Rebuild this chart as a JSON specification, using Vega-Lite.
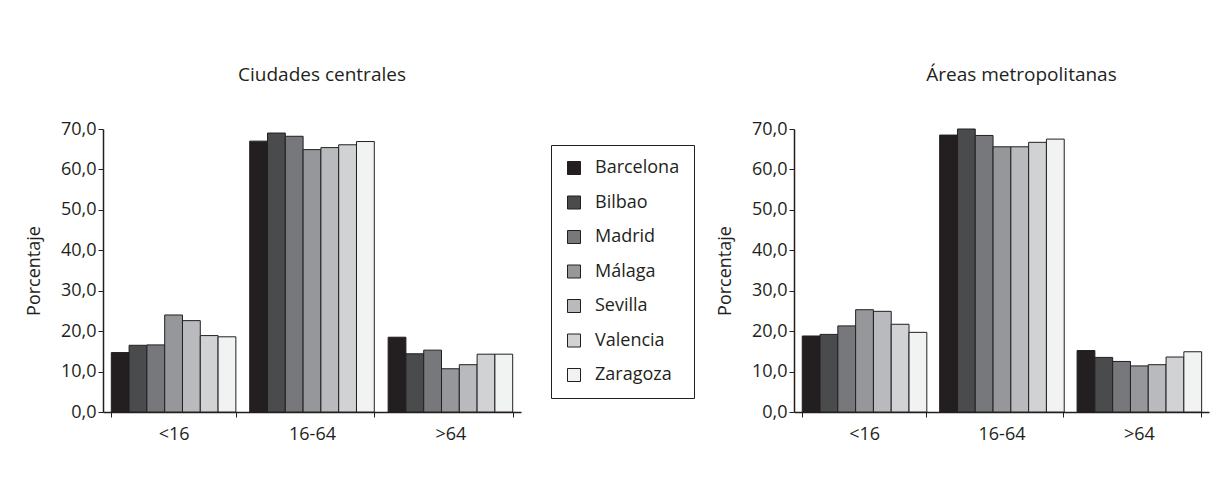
{
  "$schema": "https://vega.github.io/schema/vega-lite/v6.json",
  "padding": {"left": 25, "top": 66, "right": 5, "bottom": 5},
  "background": "white",
  "datasets": {
    "central": [
      {"grupo": "<16", "ciudad": "Barcelona", "valor": 14.7},
      {"grupo": "<16", "ciudad": "Bilbao", "valor": 16.5},
      {"grupo": "<16", "ciudad": "Madrid", "valor": 16.6},
      {"grupo": "<16", "ciudad": "Málaga", "valor": 24.0},
      {"grupo": "<16", "ciudad": "Sevilla", "valor": 22.6},
      {"grupo": "<16", "ciudad": "Valencia", "valor": 18.9},
      {"grupo": "<16", "ciudad": "Zaragoza", "valor": 18.6},
      {"grupo": "16-64", "ciudad": "Barcelona", "valor": 67.0},
      {"grupo": "16-64", "ciudad": "Bilbao", "valor": 69.0},
      {"grupo": "16-64", "ciudad": "Madrid", "valor": 68.2},
      {"grupo": "16-64", "ciudad": "Málaga", "valor": 64.9},
      {"grupo": "16-64", "ciudad": "Sevilla", "valor": 65.4},
      {"grupo": "16-64", "ciudad": "Valencia", "valor": 66.1},
      {"grupo": "16-64", "ciudad": "Zaragoza", "valor": 66.9},
      {"grupo": ">64", "ciudad": "Barcelona", "valor": 18.5},
      {"grupo": ">64", "ciudad": "Bilbao", "valor": 14.4},
      {"grupo": ">64", "ciudad": "Madrid", "valor": 15.3},
      {"grupo": ">64", "ciudad": "Málaga", "valor": 10.7},
      {"grupo": ">64", "ciudad": "Sevilla", "valor": 11.7},
      {"grupo": ">64", "ciudad": "Valencia", "valor": 14.3},
      {"grupo": ">64", "ciudad": "Zaragoza", "valor": 14.3}
    ],
    "metro": [
      {"grupo": "<16", "ciudad": "Barcelona", "valor": 18.8},
      {"grupo": "<16", "ciudad": "Bilbao", "valor": 19.2},
      {"grupo": "<16", "ciudad": "Madrid", "valor": 21.3},
      {"grupo": "<16", "ciudad": "Málaga", "valor": 25.3},
      {"grupo": "<16", "ciudad": "Sevilla", "valor": 24.9},
      {"grupo": "<16", "ciudad": "Valencia", "valor": 21.7},
      {"grupo": "<16", "ciudad": "Zaragoza", "valor": 19.7},
      {"grupo": "16-64", "ciudad": "Barcelona", "valor": 68.5},
      {"grupo": "16-64", "ciudad": "Bilbao", "valor": 70.0},
      {"grupo": "16-64", "ciudad": "Madrid", "valor": 68.4},
      {"grupo": "16-64", "ciudad": "Málaga", "valor": 65.6},
      {"grupo": "16-64", "ciudad": "Sevilla", "valor": 65.6},
      {"grupo": "16-64", "ciudad": "Valencia", "valor": 66.7},
      {"grupo": "16-64", "ciudad": "Zaragoza", "valor": 67.5},
      {"grupo": ">64", "ciudad": "Barcelona", "valor": 15.2},
      {"grupo": ">64", "ciudad": "Bilbao", "valor": 13.5},
      {"grupo": ">64", "ciudad": "Madrid", "valor": 12.5},
      {"grupo": ">64", "ciudad": "Málaga", "valor": 11.4},
      {"grupo": ">64", "ciudad": "Sevilla", "valor": 11.7},
      {"grupo": ">64", "ciudad": "Valencia", "valor": 13.6},
      {"grupo": ">64", "ciudad": "Zaragoza", "valor": 14.9}
    ]
  },
  "config": {
    "font": "Open Sans",
    "view": {"stroke": null},
    "axis": {
      "labelFont": "Open Sans", "labelFontSize": 18, "labelColor": "#231f20",
      "titleFont": "Open Sans", "titleFontSize": 18, "titleFontWeight": "normal", "titleColor": "#231f20",
      "domainColor": "#231f20", "tickColor": "#231f20", "grid": false
    },
    "title": {"font": "Open Sans", "fontSize": 19, "fontWeight": "normal", "color": "#231f20"},
    "legend": {
      "symbolType": "square", "symbolSize": 169, "symbolStrokeColor": "#231f20", "symbolStrokeWidth": 1,
      "labelFont": "Open Sans", "labelFontSize": 18, "labelColor": "#231f20", "labelOffset": 12,
      "rowPadding": 16.5, "padding": 14, "strokeColor": "#231f20"
    }
  },
  "spacing": 21,
  "resolve": {"scale": {"color": "independent"}, "legend": {"color": "independent"}},
  "hconcat": [
    {
      "data": {"name": "central"},
      "width": 418,
      "height": 283,
      "title": {"text": "Ciudades centrales", "anchor": "middle", "offset": 35, "dx": 10},
      "mark": {"type": "bar", "stroke": "#231f20", "strokeWidth": 1},
      "encoding": {
        "x": {
          "field": "grupo", "type": "nominal", "sort": ["<16", "16-64", ">64"],
          "scale": {"paddingInner": 0.1, "paddingOuter": 0.06},
          "axis": {"title": null, "labelAngle": 0, "tickBand": "extent", "tickSize": 5, "labelPadding": 8, "domainWidth": 1.5}
        },
        "xOffset": {
          "field": "ciudad", "type": "nominal",
          "sort": ["Barcelona", "Bilbao", "Madrid", "Málaga", "Sevilla", "Valencia", "Zaragoza"],
          "scale": {"paddingInner": 0, "paddingOuter": 0}
        },
        "y": {
          "field": "valor", "type": "quantitative",
          "scale": {"domain": [0, 70], "nice": false},
          "axis": {"title": "Porcentaje", "values": [0, 10, 20, 30, 40, 50, 60, 70], "tickSize": 5, "labelPadding": 2, "titlePadding": 17, "domainWidth": 1.5,
                   "labelExpr": "replace(format(datum.value, '.1f'), '.', ',')"}
        },
        "color": {
          "field": "ciudad", "type": "nominal",
          "sort": ["Barcelona", "Bilbao", "Madrid", "Málaga", "Sevilla", "Valencia", "Zaragoza"],
          "scale": {"domain": ["Barcelona", "Bilbao", "Madrid", "Málaga", "Sevilla", "Valencia", "Zaragoza"],
                    "range": ["#231f20", "#4a4b4d", "#77787b", "#96979a", "#b9babd", "#d1d2d4", "#f1f2f2"]},
          "legend": {"title": null, "orient": "none", "legendX": 448, "legendY": 16}
        }
      }
    },
    {
      "data": {"name": "metro"},
      "width": 415,
      "height": 283,
      "title": {"text": "Áreas metropolitanas", "anchor": "middle", "offset": 35, "dx": 20},
      "mark": {"type": "bar", "stroke": "#231f20", "strokeWidth": 1},
      "encoding": {
        "x": {
          "field": "grupo", "type": "nominal", "sort": ["<16", "16-64", ">64"],
          "scale": {"paddingInner": 0.1, "paddingOuter": 0.06},
          "axis": {"title": null, "labelAngle": 0, "tickBand": "extent", "tickSize": 5, "labelPadding": 8, "domainWidth": 1.5}
        },
        "xOffset": {
          "field": "ciudad", "type": "nominal",
          "sort": ["Barcelona", "Bilbao", "Madrid", "Málaga", "Sevilla", "Valencia", "Zaragoza"],
          "scale": {"paddingInner": 0, "paddingOuter": 0}
        },
        "y": {
          "field": "valor", "type": "quantitative",
          "scale": {"domain": [0, 70], "nice": false},
          "axis": {"title": "Porcentaje", "values": [0, 10, 20, 30, 40, 50, 60, 70], "tickSize": 5, "labelPadding": 2, "titlePadding": 17, "domainWidth": 1.5,
                   "labelExpr": "replace(format(datum.value, '.1f'), '.', ',')"}
        },
        "color": {
          "field": "ciudad", "type": "nominal",
          "scale": {"domain": ["Barcelona", "Bilbao", "Madrid", "Málaga", "Sevilla", "Valencia", "Zaragoza"],
                    "range": ["#231f20", "#4a4b4d", "#77787b", "#96979a", "#b9babd", "#d1d2d4", "#f1f2f2"]},
          "legend": null
        }
      }
    }
  ]
}
